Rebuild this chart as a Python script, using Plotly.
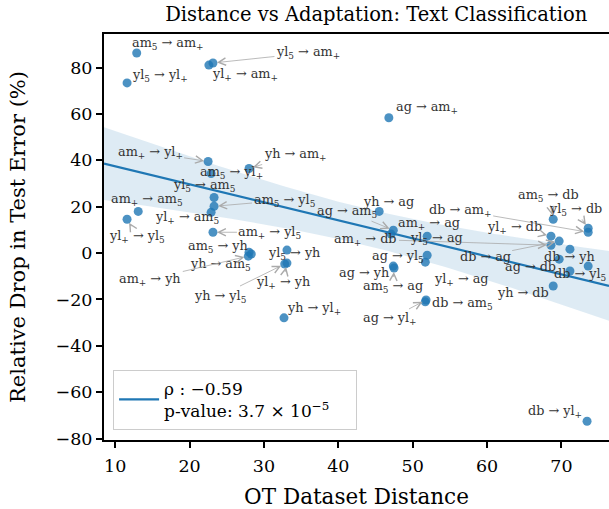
import numpy as np
import plotly.graph_objects as go

# ---- data ----
source = ["am5", "yl5", "yl+", "yl5", "ag", "am+", "am5", "yh", "yl5", "am5",
          "yl+", "am+", "yl+", "am+", "am5", "yh", "am+", "yl5", "yl+", "yh",
          "yh", "yh", "ag", "am+", "am+", "yl5", "ag", "yl+", "ag", "am5",
          "db", "ag", "am5", "yl5", "db", "yl+", "db", "db", "ag", "db",
          "db", "yh", "db"]
target = ["am+", "am+", "am+", "yl+", "am+", "yl+", "yl+", "am+", "am5", "yl5",
          "am5", "am5", "yl5", "yl5", "yh", "am5", "yh", "yh", "yh", "yl5",
          "yl+", "ag", "am5", "ag", "db", "ag", "yl5", "ag", "yh", "ag",
          "am5", "yl+", "db", "db", "am+", "db", "ag", "yh", "db", "yl5",
          "", "db", "yl+"]
ot_distance = [12.9, 23.15, 22.6, 11.6, 46.8, 22.5, 22.9, 28.0, 23.3, 23.3,
               22.9, 13.1, 11.6, 23.15, 28.0, 28.3, 27.9, 33.1, 33.1, 32.8,
               32.7, 45.5, 47.4, 47.1, 68.6, 51.95, 51.95, 51.7, 47.4, 47.5,
               51.7, 51.8, 68.9, 73.6, 73.6, 68.6, 69.7, 71.15, 69.7, 71.15,
               73.6, 68.9, 73.45]
error_drop = [86.3, 82.0, 81.1, 73.4, 58.4, 39.5, 34.3, 36.5, 24.0, 20.2,
              17.6, 18.0, 14.6, 9.0, 0.4, -0.4, -1.3, 1.3, -4.3, -4.7,
              -27.9, 18.0, 9.9, 8.2, 3.4, 7.3, -0.9, -3.9, -5.6, -6.4,
              -21.0, -20.2, 14.6, 10.7, 9.0, 7.3, 5.2, 1.7, -2.6, -7.7,
              -5.6, -14.2, -72.5]

rho_text = "ρ : −0.59"
pval_text = "p-value: 3.7 × 10<sup>−5</sup>"
x_ticks = [10, 20, 30, 40, 50, 60, 70]
y_ticks = [-80, -60, -40, -20, 0, 20, 40, 60, 80]

# label offsets (pixels, label centre relative to point)
label_dx = [31, 95, 36, 33, 38, -58, 20, 46, -10, 70,
            -24, 9, 10, 57, -31, -31, -98, 7, -4, -65,
            30, 9, -46, 38, -185, 9, -29, 36, -29, -1,
            37, -36, -5, -13, -128, -36, -74, 0, -29, 10,
            0, -30, -32]
label_dy = [-10, -10, 9, -7, -10, -9, -1, -14, -12, -6,
            5, -12, 17, 0, -6, 10, 23, 3, 19, 32,
            -9, -10, -19, -11, -6, 2, 1, 17, 6, 19,
            2, 19, -24, -19, -22, -9, 15, 7, 7, 4,
            0, 6, -10]

FONT = "DejaVu Serif"


def fmt(name):
    if name[-1] in "5+":
        return name[:-1] + "<sub>" + name[-1] + "</sub>"
    return name


x = np.array(ot_distance, dtype=float)
y = np.array(error_drop, dtype=float)
n = len(x)
slope, intercept = np.polyfit(x, y, 1)
x_range = [8.5, 76.4]
xs = np.linspace(x_range[0], x_range[1], 120)
yhat = intercept + slope * xs
resid = y - (intercept + slope * x)
s = np.sqrt(np.sum(resid ** 2) / (n - 2))
sxx = np.sum((x - x.mean()) ** 2)
half = 2.021 * s * np.sqrt(1.0 / n + (xs - x.mean()) ** 2 / sxx)

fig = go.Figure()
fig.add_trace(go.Scatter(
    x=np.concatenate([xs, xs[::-1]]),
    y=np.concatenate([yhat + half, (yhat - half)[::-1]]),
    fill="toself", fillcolor="rgba(31,119,180,0.15)",
    line=dict(width=0), hoverinfo="skip", showlegend=False))
fig.add_trace(go.Scatter(
    x=x, y=y, mode="markers",
    marker=dict(color="#1f77b4", opacity=0.8, size=9, line=dict(width=0)),
    showlegend=False))
fig.add_trace(go.Scatter(
    x=xs, y=yhat, mode="lines", line=dict(color="#1f77b4", width=2.2),
    name=rho_text + "<br>" + pval_text + "&nbsp;" * 4))

annotations = []
for sx, tx, xv, yv, dx, dy in zip(source, target, ot_distance, error_drop,
                                   label_dx, label_dy):
    if not tx:
        continue
    annotations.append(dict(
        x=xv, y=yv, xref="x", yref="y",
        text=fmt(sx) + " → " + fmt(tx),
        showarrow=True, ax=dx, ay=dy,
        arrowhead=5, arrowsize=1.8, arrowwidth=0.8, arrowcolor="#aaaaaa",
        standoff=4,
        font=dict(family=FONT, size=12.8, color="#333333")))

axis_common = dict(
    showline=True, linecolor="black", linewidth=2,
    ticks="outside", ticklen=6, tickwidth=1.5, tickcolor="black",
    showgrid=False, zeroline=False, automargin=False,
    tickfont=dict(family=FONT, size=17.5, color="black"),
)

fig.update_layout(
    width=609, height=509,
    margin=dict(l=104, r=0, t=34, b=69),
    plot_bgcolor="white", paper_bgcolor="white",
    title=dict(text="Distance vs Adaptation: Text Classification",
               xref="paper", x=0.539, xanchor="center",
               yref="container", y=0.972, yanchor="middle",
               font=dict(family=FONT, size=19.5, color="black")),
    xaxis=dict(range=x_range, tickvals=x_ticks, mirror=True,
               ticklabelstandoff=3,
               title=dict(text="OT Dataset Distance",
                          font=dict(family=FONT, size=21.5, color="black"),
                          standoff=15),
               **axis_common),
    yaxis=dict(range=[-80.6, 94.5], tickvals=y_ticks,
               title=dict(text="Relative Drop in Test Error (%)",
                          font=dict(family=FONT, size=21, color="black"),
                          standoff=24),
               **axis_common),
    legend=dict(x=0.018, y=0.025, xanchor="left", yanchor="bottom",
                bgcolor="rgba(255,255,255,0.85)", bordercolor="#cccccc",
                borderwidth=1, itemwidth=40,
                font=dict(family=FONT, size=17, color="black")),
    annotations=annotations,
)

fig.write_html("out.html",
               config={"displayModeBar": False},
               post_script="document.body.style.margin='0';"
                           "document.body.style.overflow='hidden';")
